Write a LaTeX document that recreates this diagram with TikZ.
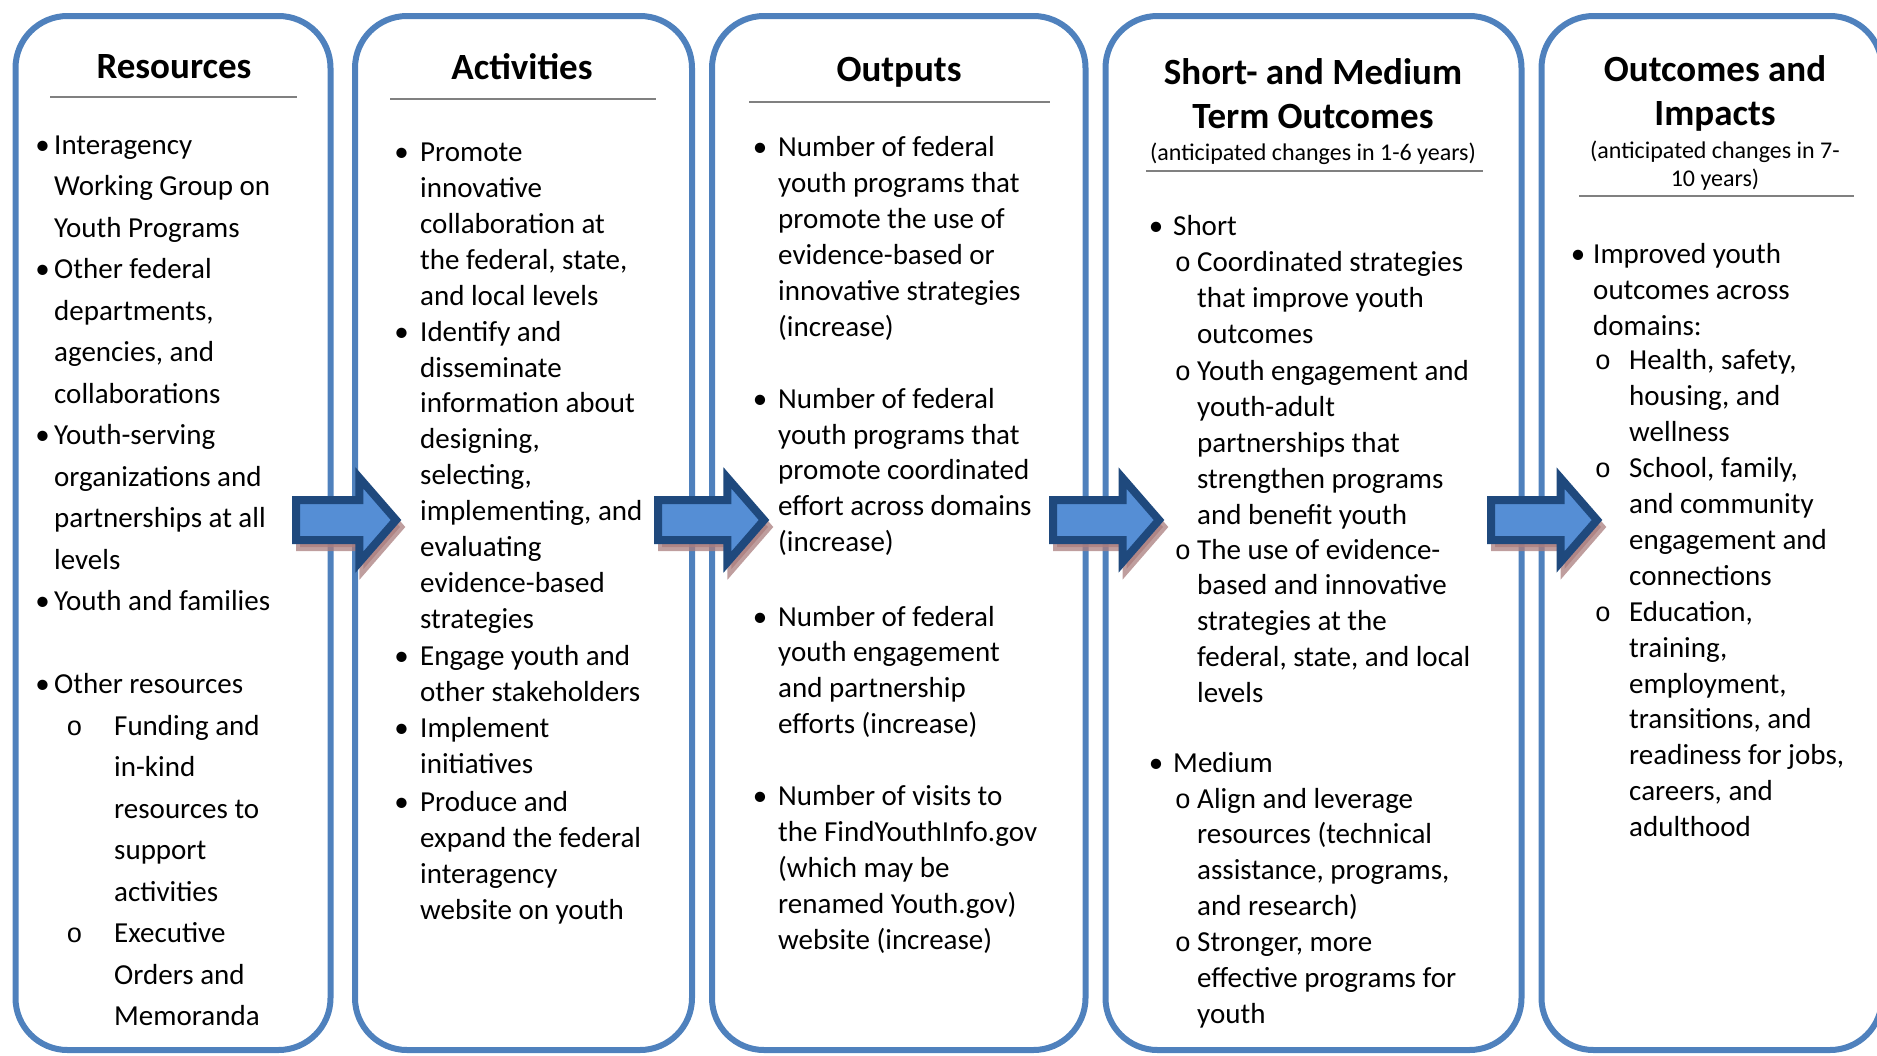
\documentclass[tikz,border=0pt]{standalone}
\usepackage{fontspec}
\setmainfont{Carlito}
\newfontfamily\ringfont{Liberation Mono}
\usetikzlibrary{shapes.arrows}
\usetikzlibrary{shadows}
\definecolor{boxblue}{RGB}{79,129,189}
\definecolor{arrowfill}{RGB}{85,142,213}
\definecolor{arrowline}{RGB}{31,73,125}
\definecolor{shadowred}{RGB}{170,125,125}
\definecolor{rulegray}{RGB}{128,128,128}

\begin{document}
\begin{tikzpicture}[x=1pt,y=-1pt]
\tikzset{box/.style = {draw=boxblue, line width=6pt, rounded corners=52pt}}
\tikzset{head/.style = {font=\bfseries\fontsize{37}{44}\selectfont, align=center, anchor=base, inner sep=0pt}}
\tikzset{sub/.style = {font=\fontsize{24}{28.5}\selectfont, align=center, anchor=base, inner sep=0pt}}
\tikzset{txt/.style = {font=\fontsize{29}{35.9}\selectfont, align=left, anchor=base west, inner sep=0pt}}
\tikzset{wide/.style = {txt, font=\fontsize{29}{41.5}\selectfont}}
\tikzset{dot/.style = {font=\fontsize{29}{35}\selectfont, anchor=base, inner sep=0pt}}
\tikzset{ring/.style = {font=\ringfont\fontsize{27}{35}\selectfont, anchor=base, inner sep=0pt}}
\tikzset{rule/.style = {draw=rulegray, line width=2.5pt}}
\tikzset{flow/.style = {single arrow, draw=arrowline, fill=arrowfill, line width=8pt,
  inner xsep=0pt, inner ysep=16pt, single arrow head extend=22pt, single arrow tip angle=98,
  minimum height=106pt, anchor=tail,
  drop shadow={shadow xshift=4pt, shadow yshift=-7pt, fill=shadowred, draw=shadowred, line width=8pt, opacity=0.75}}}
\useasboundingbox (0,0) rectangle (1877,1055);

% the five columns
\draw[box] (15.5,16) rectangle (330.5,1050);
\draw[box] (355,16) rectangle (692,1050);
\draw[box] (712,16) rectangle (1085.5,1050);
\draw[box] (1105.5,16) rectangle (1521.5,1050);
\draw[box] (1541.5,16) rectangle (1882,1050);

% headings (a node of several lines sits on its last line)
\node[head] (res) at (174,78) {Resources};
\node[head] (act) at (522,79) {Activities};
\node[head] (outp) at (899,81) {Outputs};
\node[head] (smo) at (1313,128) {Short- and Medium\\Term Outcomes};
\node[sub] (smy) at (1313,160) {(anticipated changes in 1-6 years)};
\node[head] (imp) at (1715,125) {Outcomes and\\Impacts};
\node[sub] (impy) at (1715,186.5) {(anticipated changes in 7-\\10 years)};

\draw[rule] (50,97) -- (297,97);
\draw[rule] (390,99) -- (656,99);
\draw[rule] (749,102) -- (1050,102);
\draw[rule] (1146,171) -- (1483,171);
\draw[rule] (1579,196) -- (1854,196);

% Resources
\node[dot] (br1) at (42.5,154.3) {\textbullet};
\node[wide] (r1) at (54,237.3) {Interagency\\Working Group on\\Youth Programs};
\node[dot] (br2) at (42.5,278.8) {\textbullet};
\node[wide] (r2) at (54,403.3) {Other federal\\departments,\\agencies, and\\collaborations};
\node[dot] (br3) at (42.5,444.8) {\textbullet};
\node[wide] (r3) at (54,569.3) {Youth-serving\\organizations and\\partnerships at all\\levels};
\node[dot] (br4) at (42.5,610.8) {\textbullet};
\node[wide] (r4) at (54,610.8) {Youth and families};
\node[dot] (br5) at (42.5,693.8) {\textbullet};
\node[wide] (r5) at (54,693.8) {Other resources};
\node[ring] (or1) at (74.5,735.3) {o};
\node[wide] (r6) at (114,901.3) {Funding and\\in-kind\\resources to\\support\\activities};
\node[ring] (or2) at (74.5,942.8) {o};
\node[wide] (r7) at (114,1025.8) {Executive\\Orders and\\Memoranda};

% Activities
\node[dot] (ba1) at (401.5,161.5) {\textbullet};
\node[txt] (a1) at (420,305.1) {Promote\\innovative\\collaboration at\\the federal, state,\\and local levels};
\node[dot] (ba2) at (401.5,341.1) {\textbullet};
\node[txt] (a2) at (420,628.3) {Identify and\\disseminate\\information about\\designing,\\selecting,\\implementing, and\\evaluating\\evidence-based\\strategies};
\node[dot] (ba3) at (401.5,665.5) {\textbullet};
\node[txt] (a3) at (420,701.4) {Engage youth and\\other stakeholders};
\node[dot] (ba4) at (401.5,737.3) {\textbullet};
\node[txt] (a4) at (420,773.2) {Implement\\initiatives};
\node[dot] (ba5) at (401.5,811.5) {\textbullet};
\node[txt] (a5) at (420,919.2) {Produce and\\expand the federal\\interagency\\website on youth};

% Outputs
\node[dot] (bo1) at (760,156.7) {\textbullet};
\node[txt] (o1) at (778,336.2) {Number of federal\\youth programs that\\promote the use of\\evidence-based or\\innovative strategies\\(increase)};
\node[dot] (bo2) at (760,408.1) {\textbullet};
\node[txt] (o2) at (778,551.7) {Number of federal\\youth programs that\\promote coordinated\\effort across domains\\(increase)};
\node[dot] (bo3) at (760,626) {\textbullet};
\node[txt] (o3) at (778,733.7) {Number of federal\\youth engagement\\and partnership\\efforts (increase)};
\node[dot] (bo4) at (760,805.5) {\textbullet};
\node[txt] (o4) at (778,949.1) {Number of visits to\\the FindYouthInfo.gov\\(which may be\\renamed Youth.gov)\\website (increase)};

% Short- and medium term
\node[dot] (bs1) at (1156,235.7) {\textbullet};
\node[txt] (s0) at (1173,235.7) {Short};
\node[ring] (os1) at (1183,271.6) {o};
\node[txt] (s1) at (1197,343.4) {Coordinated strategies\\that improve youth\\outcomes};
\node[ring] (os2) at (1183,380.6) {o};
\node[txt] (s2) at (1197,524.2) {Youth engagement and\\youth-adult\\partnerships that\\strengthen programs\\and benefit youth};
\node[ring] (os3) at (1183,559) {o};
\node[txt] (s3) at (1197,702.6) {The use of evidence-\\based and innovative\\strategies at the\\federal, state, and local\\levels};
\node[dot] (bs2) at (1156,772) {\textbullet};
\node[txt] (m0) at (1173,772) {Medium};
\node[ring] (om1) at (1183,808) {o};
\node[txt] (m1) at (1197,915.7) {Align and leverage\\resources (technical\\assistance, programs,\\and research)};
\node[ring] (om2) at (1183,951.6) {o};
\node[txt] (m2) at (1197,1023.4) {Stronger, more\\effective programs for\\youth};

% Outcomes and impacts
\node[dot] (bi1) at (1578,263.3) {\textbullet};
\node[txt] (i1) at (1593,335.1) {Improved youth\\outcomes across\\domains:};
\node[ring] (oi1) at (1603,369.8) {o};
\node[txt] (p1) at (1629,441.6) {Health, safety,\\housing, and\\wellness};
\node[ring] (oi2) at (1603,477.5) {o};
\node[txt] (p2) at (1629,585.2) {School, family,\\and community\\engagement and\\connections};
\node[ring] (oi3) at (1603,621.2) {o};
\node[txt] (p3) at (1629,836.6) {Education,\\training,\\employment,\\transitions, and\\readiness for jobs,\\careers, and\\adulthood};

% block arrows between the columns
\node[flow, minimum height=100pt] (ar1) at (292,520) {};
\node[flow] (ar2) at (654,520) {};
\node[flow] (ar3) at (1049,520) {};
\node[flow] (ar4) at (1487,520) {};
\end{tikzpicture}
\end{document}
